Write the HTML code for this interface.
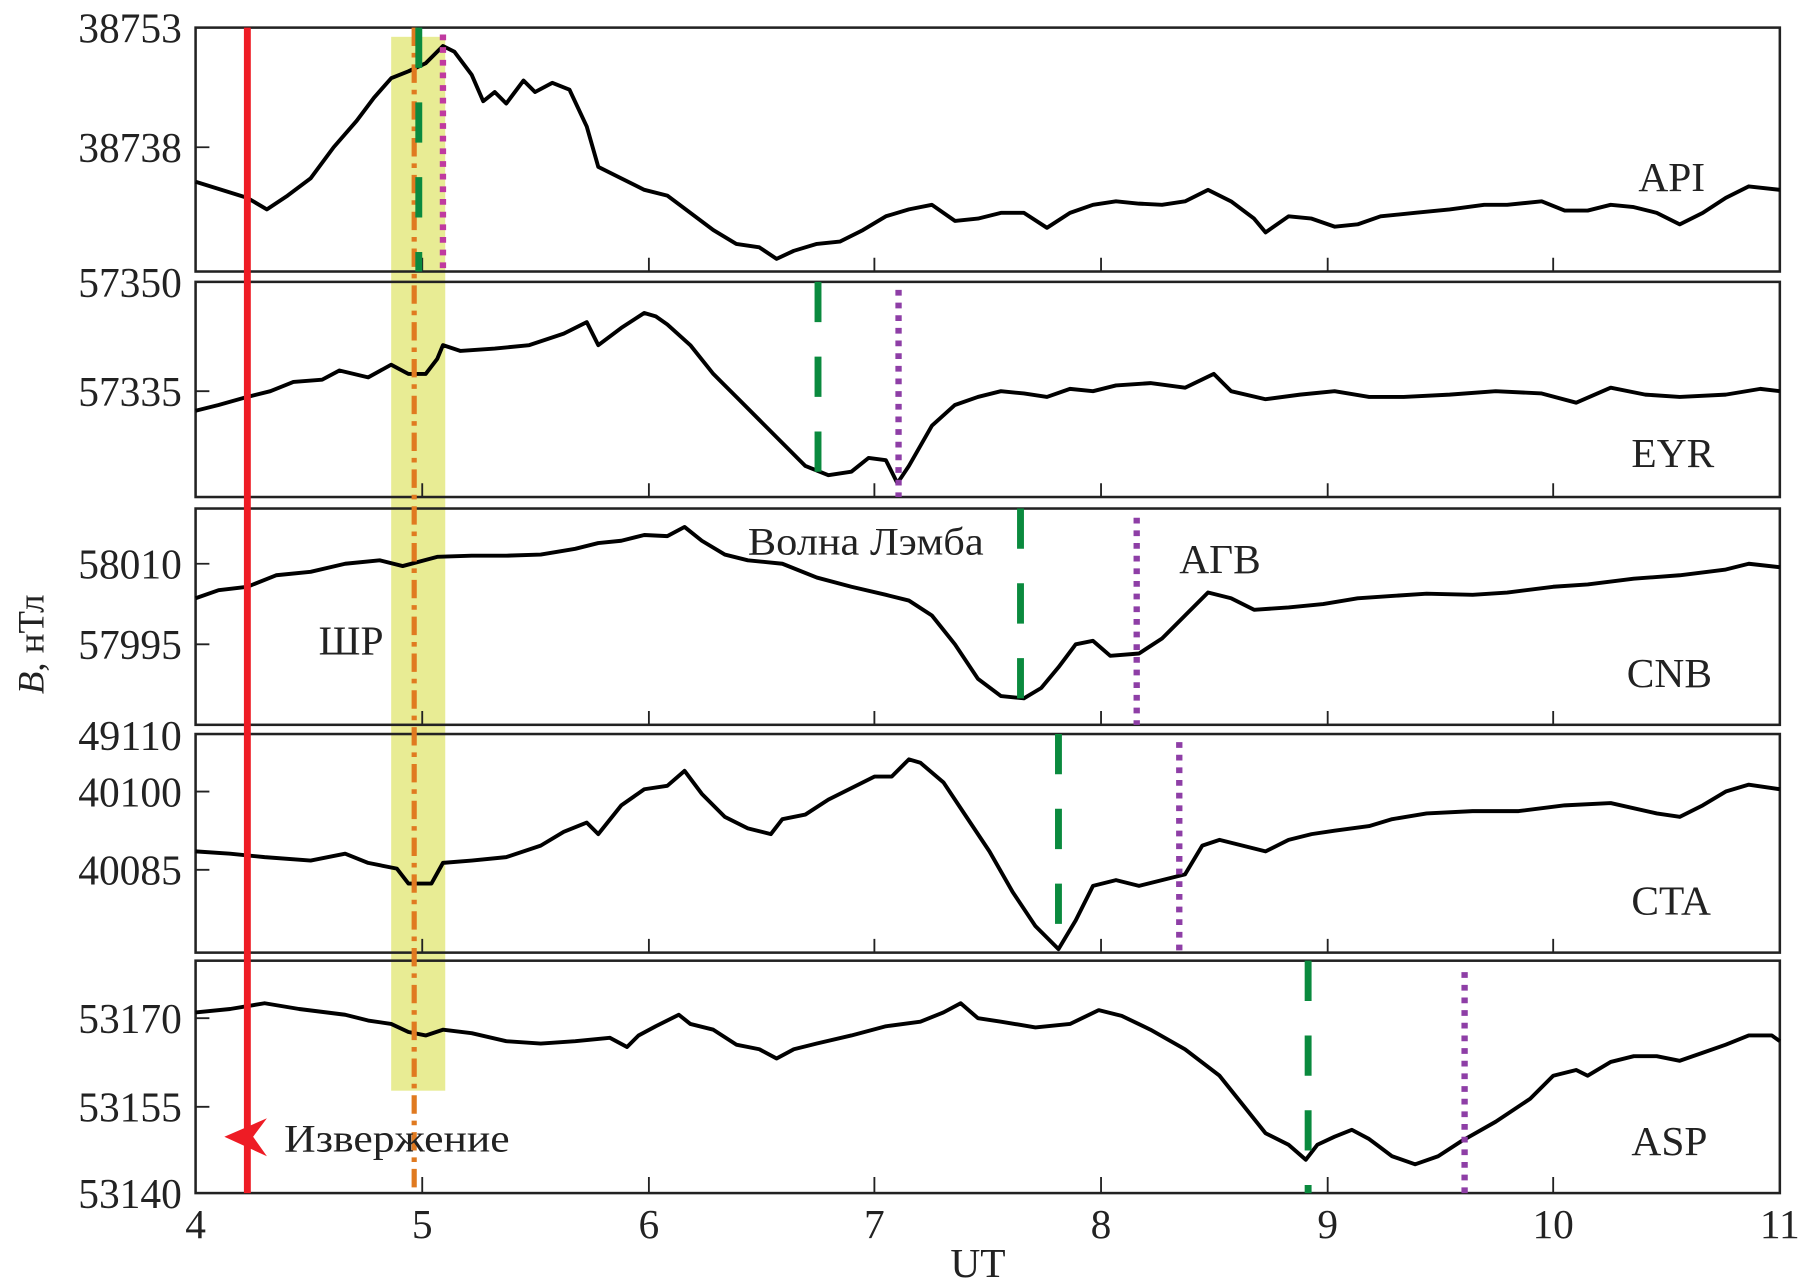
<!DOCTYPE html>
<html><head><meta charset="utf-8"><style>html,body{margin:0;padding:0;background:#fff}svg{display:block}</style></head>
<body>
<svg width="1804" height="1288" viewBox="0 0 1568 1119.5" preserveAspectRatio="none" xmlns="http://www.w3.org/2000/svg" font-family="Liberation Serif, serif">
<rect x="340" y="32" width="47" height="916" fill="#e8ec94"/>
<g fill="none" stroke="#222" stroke-width="2.2">
<rect x="170" y="24" width="1377" height="212"/>
<rect x="170" y="245" width="1377" height="187"/>
<rect x="170" y="442" width="1377" height="188"/>
<rect x="170" y="638" width="1377" height="190"/>
<rect x="170" y="835" width="1377" height="202"/>
</g>
<g stroke="#222" stroke-width="1.6">
<path d="M367 236v-12M564 236v-12M760 236v-12M957 236v-12M1154 236v-12M1350 236v-12"/>
<path d="M367 432v-12M564 432v-12M760 432v-12M957 432v-12M1154 432v-12M1350 432v-12"/>
<path d="M367 630v-12M564 630v-12M760 630v-12M957 630v-12M1154 630v-12M1350 630v-12"/>
<path d="M367 828v-12M564 828v-12M760 828v-12M957 828v-12M1154 828v-12M1350 828v-12"/>
<path d="M367 1037v-14M564 1037v-14M760 1037v-14M957 1037v-14M1154 1037v-14M1350 1037v-14"/>
<path d="M170 128h12M170 340h12M170 490h12M170 560h12M170 688h12M170 756h12M170 885h12M170 962h12"/>
</g>
<g fill="none" stroke="#000" stroke-width="3.4" stroke-linejoin="round">
<polyline points="170,158 215,172 232,182 250,170 270,155 290,128 310,105 325,85 340,68 355,62 370,55 385,40 395,45 410,65 420,88 430,80 440,90 455,70 465,80 480,72 495,78 510,110 520,145 540,155 560,165 580,170 600,185 620,200 640,212 660,215 675,225 690,218 710,212 730,210 750,200 770,188 790,182 810,178 830,192 850,190 870,185 890,185 910,198 930,185 950,178 970,175 990,177 1010,178 1030,175 1050,165 1070,175 1090,190 1100,202 1120,188 1140,190 1160,197 1180,195 1200,188 1230,185 1260,182 1290,178 1310,178 1340,175 1360,183 1380,183 1400,178 1420,180 1440,185 1460,195 1480,185 1500,172 1520,162 1547,165"/>
<polyline points="170,357 190,352 215,345 235,340 255,332 280,330 295,322 320,328 340,317 355,325 370,325 380,312 385,300 400,305 430,303 460,300 490,290 510,280 520,300 540,285 560,272 570,275 580,282 600,300 620,325 640,345 660,365 680,385 700,405 720,413 740,410 755,398 770,400 780,420 790,405 810,370 830,352 850,345 870,340 890,342 910,345 930,338 950,340 970,335 1000,333 1030,337 1055,325 1070,340 1100,347 1130,343 1160,340 1190,345 1220,345 1260,343 1300,340 1340,342 1370,350 1400,337 1430,343 1460,345 1500,343 1530,338 1547,340"/>
<polyline points="170,520 190,513 215,510 240,500 270,497 300,490 330,487 350,492 380,484 410,483 440,483 470,482 500,477 520,472 540,470 560,465 580,466 595,458 610,470 630,482 650,487 680,490 710,502 740,510 770,517 790,522 810,535 830,560 850,590 870,605 890,607 905,598 920,580 935,560 950,557 965,570 990,568 1010,555 1030,535 1050,515 1070,520 1090,530 1120,528 1150,525 1180,520 1210,518 1240,516 1280,517 1310,515 1350,510 1380,508 1420,503 1460,500 1500,495 1520,490 1547,493"/>
<polyline points="170,740 200,742 230,745 270,748 300,742 320,750 345,755 355,768 375,768 385,750 410,748 440,745 470,735 490,723 510,715 520,725 540,700 560,686 580,683 595,670 610,690 630,710 650,720 670,725 680,712 700,708 720,695 740,685 760,675 775,675 790,660 800,663 820,680 840,710 860,740 880,775 900,805 920,825 935,800 950,770 970,765 990,770 1010,765 1030,760 1045,735 1060,730 1080,735 1100,740 1120,730 1140,725 1160,722 1190,718 1210,712 1240,707 1280,705 1320,705 1360,700 1400,698 1440,707 1460,710 1480,700 1500,688 1520,682 1547,686"/>
<polyline points="170,880 200,877 230,872 260,877 300,882 320,887 340,890 355,897 370,900 385,895 410,898 440,905 470,907 500,905 530,902 545,910 555,900 570,892 590,882 600,890 620,895 640,908 660,912 675,920 690,912 710,907 740,900 770,892 800,888 820,880 835,872 850,885 870,888 900,893 930,890 955,878 975,883 1000,895 1030,912 1060,935 1080,960 1100,985 1120,995 1135,1008 1145,995 1160,988 1175,982 1190,990 1210,1005 1230,1012 1250,1005 1270,992 1300,975 1330,955 1350,935 1370,930 1380,935 1400,923 1420,918 1440,918 1460,922 1480,915 1500,908 1520,900 1540,900 1547,905"/>
</g>
<line x1="215" y1="24" x2="215" y2="1037" stroke="#ee1c25" stroke-width="6"/>
<line x1="360" y1="24" x2="360" y2="1032" stroke="#e07a20" stroke-width="4.5" stroke-dasharray="16,6,4,6"/>
<g stroke="#0a8a3e" stroke-width="6" stroke-dasharray="35,30">
<line x1="364" y1="24" x2="364" y2="236"/>
<line x1="711" y1="245" x2="711" y2="432"/>
<line x1="887" y1="442" x2="887" y2="630"/>
<line x1="920" y1="638" x2="920" y2="828"/>
<line x1="1137" y1="835" x2="1137" y2="1037"/>
</g>
<g stroke="#8e3ea6" stroke-width="5.5" stroke-dasharray="5,6">
<line x1="385" y1="30" x2="385" y2="236" stroke="#c03aa0"/>
<line x1="781" y1="252" x2="781" y2="432"/>
<line x1="988" y1="450" x2="988" y2="630"/>
<line x1="1025" y1="645" x2="1025" y2="828"/>
<line x1="1273" y1="845" x2="1273" y2="1037"/>
</g>
<path d="M195 988 L232 972 L220 988 L232 1005 Z" fill="#ee1c25"/>
<g font-size="37" fill="#222" text-anchor="end">
<text x="158" y="37" textLength="90" lengthAdjust="spacingAndGlyphs">38753</text><text x="158" y="141" textLength="90" lengthAdjust="spacingAndGlyphs">38738</text>
<text x="158" y="258" textLength="90" lengthAdjust="spacingAndGlyphs">57350</text><text x="158" y="353" textLength="90" lengthAdjust="spacingAndGlyphs">57335</text>
<text x="158" y="503" textLength="90" lengthAdjust="spacingAndGlyphs">58010</text><text x="158" y="573" textLength="90" lengthAdjust="spacingAndGlyphs">57995</text>
<text x="158" y="652" textLength="90" lengthAdjust="spacingAndGlyphs">49110</text><text x="158" y="701" textLength="90" lengthAdjust="spacingAndGlyphs">40100</text><text x="158" y="769" textLength="90" lengthAdjust="spacingAndGlyphs">40085</text>
<text x="158" y="898" textLength="90" lengthAdjust="spacingAndGlyphs">53170</text><text x="158" y="975" textLength="90" lengthAdjust="spacingAndGlyphs">53155</text><text x="158" y="1050" textLength="90" lengthAdjust="spacingAndGlyphs">53140</text>
</g>
<g font-size="36" fill="#222" text-anchor="middle">
<text x="170" y="1076">4</text><text x="367" y="1076">5</text><text x="564" y="1076">6</text><text x="760" y="1076">7</text><text x="957" y="1076">8</text><text x="1154" y="1076">9</text><text x="1350" y="1076">10</text><text x="1547" y="1076">11</text>
<text x="850" y="1110">UT</text>
</g>
<g font-size="36" fill="#222">
<text x="1424" y="166">API</text><text x="1418" y="406">EYR</text><text x="1414" y="597">CNB</text><text x="1418" y="795">CTA</text><text x="1418" y="1004">ASP</text>
<text x="650" y="482" font-size="34" textLength="205" lengthAdjust="spacingAndGlyphs">Волна Лэмба</text>
<text x="1025" y="498">АГВ</text>
<text x="277" y="569">ШР</text>
<text x="247" y="1001" font-size="34" textLength="196" lengthAdjust="spacingAndGlyphs">Извержение</text>
</g>
<text transform="translate(38,560) rotate(-90)" font-size="32" fill="#222" text-anchor="middle"><tspan font-style="italic">B</tspan>, нТл</text>
</svg>
</body></html>
